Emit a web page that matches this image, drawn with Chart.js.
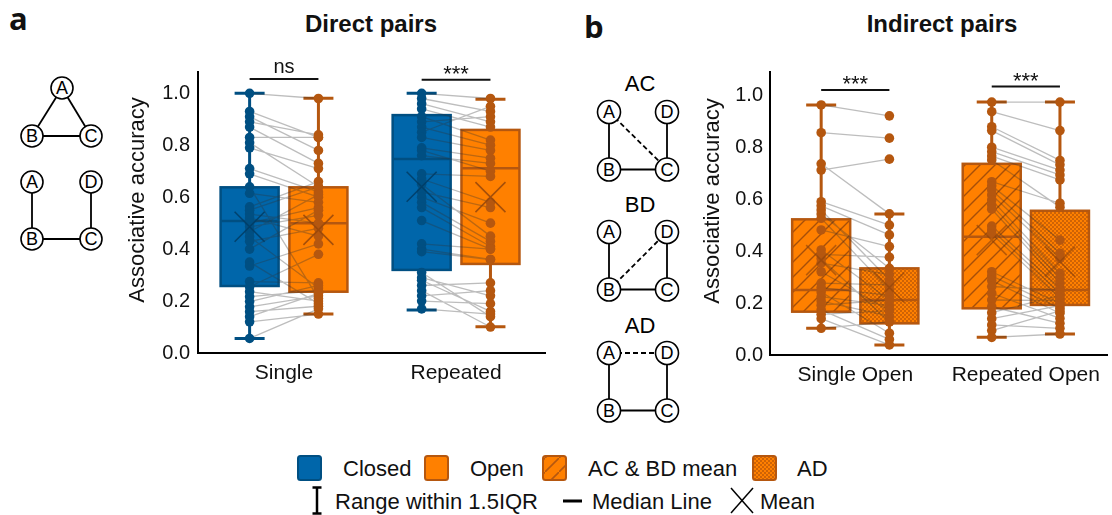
<!DOCTYPE html>
<html>
<head>
<meta charset="utf-8">
<script src="https://cdn.jsdelivr.net/npm/chart.js@4.4.1/dist/chart.umd.min.js"></script>
<style>
  body { margin: 0; width: 1112px; height: 515px; background: #fff; position: relative; overflow: hidden; }
  svg, canvas { position: absolute; }
</style>
</head>
<body>
<svg id="art" width="1112" height="515" style="left:0;top:0" font-family="'Liberation Sans', Arial, sans-serif" fill="#111"></svg>
<canvas id="direct" width="460" height="360" style="left:100px;top:40px"></canvas>
<canvas id="indirect" width="442" height="360" style="left:670px;top:40px"></canvas>
<script>
const directCats = ["Single", "Repeated"]
const indirectCats = ["Single Open", "Repeated Open"]
const yTicks = [0, 0.2, 0.4, 0.6, 0.8, 1.0]

// paired accuracies, one entry per participant (closed -> open)
const directSingleClosed = [1.0, 0.93, 0.91, 0.89, 0.87, 0.83, 0.81, 0.79, 0.71, 0.69, 0.64, 0.615, 0.563, 0.55, 0.535, 0.52, 0.50, 0.486, 0.467, 0.448, 0.43, 0.40, 0.35, 0.335, 0.275, 0.255, 0.236, 0.217, 0.198, 0.178, 0.159, 0.14, 0.12, 0.056]
const directSingleOpen = [0.98, 0.83, 0.78, 0.84, 0.73, 0.83, 0.64, 0.71, 0.62, 0.60, 0.21, 0.58, 0.66, 0.64, 0.50, 0.45, 0.56, 0.53, 0.61, 0.25, 0.48, 0.55, 0.19, 0.42, 0.27, 0.38, 0.20, 0.24, 0.26, 0.22, 0.18, 0.23, 0.15, 0.17]
const directRepeatedClosed = [1.0, 0.98, 0.96, 0.94, 0.91, 0.89, 0.87, 0.85, 0.83, 0.79, 0.78, 0.76, 0.69, 0.67, 0.65, 0.62, 0.60, 0.58, 0.56, 0.51, 0.42, 0.40, 0.39, 0.31, 0.29, 0.28, 0.26, 0.24, 0.22, 0.20, 0.17]
const directRepeatedOpen = [0.98, 0.93, 0.89, 0.87, 0.82, 0.91, 0.80, 0.95, 0.78, 0.75, 0.70, 0.73, 0.68, 0.58, 0.45, 0.56, 0.50, 0.43, 0.41, 0.40, 0.40, 0.36, 0.36, 0.14, 0.22, 0.16, 0.27, 0.10, 0.24, 0.19, 0.15]

// paired accuracies (AC & BD mean -> AD)
const indirectSingleACBD = [0.964, 0.857, 0.737, 0.713, 0.591, 0.575, 0.559, 0.544, 0.527, 0.482, 0.405, 0.388, 0.371, 0.354, 0.321, 0.277, 0.26, 0.243, 0.225, 0.208, 0.192, 0.174, 0.157, 0.14, 0.103]
const indirectSingleAD = [0.922, 0.836, 0.544, 0.755, 0.501, 0.463, 0.289, 0.334, 0.251, 0.418, 0.212, 0.377, 0.128, 0.31, 0.171, 0.27, 0.23, 0.084, 0.19, 0.15, 0.212, 0.06, 0.171, 0.039, 0.128]
const indirectRepeatedACBD = [0.975, 0.938, 0.88, 0.865, 0.801, 0.784, 0.767, 0.752, 0.668, 0.652, 0.636, 0.617, 0.598, 0.578, 0.562, 0.497, 0.482, 0.467, 0.321, 0.305, 0.287, 0.264, 0.238, 0.212, 0.186, 0.163, 0.14, 0.116, 0.094, 0.068]
const indirectRepeatedAD = [0.975, 0.865, 0.75, 0.733, 0.713, 0.694, 0.675, 0.57, 0.585, 0.443, 0.392, 0.373, 0.315, 0.296, 0.277, 0.257, 0.238, 0.219, 0.199, 0.18, 0.161, 0.25, 0.141, 0.21, 0.122, 0.23, 0.19, 0.103, 0.17, 0.081]

// box summaries per category: [lower whisker, q1, median, q3, upper whisker]
const directClosedBox = [[0.056, 0.258, 0.508, 0.638, 1.0], [0.166, 0.32, 0.747, 0.916, 1.0]]
const directOpenBox = [[0.15, 0.236, 0.50, 0.638, 0.981], [0.101, 0.343, 0.711, 0.859, 0.977]]
const directClosedMean = [0.486, 0.64]
const directOpenMean = [0.474, 0.60]
const indirectACBDBox = [[0.103, 0.167, 0.251, 0.523, 0.964], [0.068, 0.18, 0.456, 0.737, 0.975]]
const indirectADBox = [[0.039, 0.122, 0.212, 0.334, 0.544], [0.081, 0.193, 0.251, 0.556, 0.975]]
const indirectACBDMean = [0.366, 0.443]
const indirectADMean = [0.26, 0.36]

// significance labels and bracket heights
const directSig = ["ns", "***"]
const directSigLevel = [1.055, 1.052]
const indirectSig = ["***", "***"]
const indirectSigLevel = [1.022, 1.035]

const FONT = "'Liberation Sans', Arial, sans-serif"
const BLUE = "#0066aa", BLUE_DARK = "#004f82"
const ORANGE = "#ff8000", ORANGE_DARK = "#b5570f"
const SHIFT = 0.2

function hatchPattern(ctx) {
  const c = document.createElement("canvas")
  c.width = c.height = 15
  const g = c.getContext("2d")
  g.fillStyle = ORANGE
  g.fillRect(0, 0, 15, 15)
  g.strokeStyle = "rgba(150,70,10,0.85)"
  g.lineWidth = 1.4
  g.beginPath()
  g.moveTo(-2, 17); g.lineTo(17, -2)
  g.moveTo(-2, 2); g.lineTo(2, -2)
  g.moveTo(13, 17); g.lineTo(17, 13)
  g.stroke()
  return ctx.createPattern(c, "repeat")
}

function checkerPattern(ctx) {
  const c = document.createElement("canvas")
  c.width = c.height = 4
  const g = c.getContext("2d")
  g.fillStyle = ORANGE
  g.fillRect(0, 0, 4, 4)
  g.fillStyle = "rgba(165,75,10,0.55)"
  g.fillRect(0, 0, 2, 2)
  g.fillRect(2, 2, 2, 2)
  return ctx.createPattern(c, "repeat")
}

function boxPlugin(groups, pairs, sigs, titleX, titleY) {
  return {
    id: "boxes",
    beforeDatasetsDraw(chart) {
      const { ctx, scales: { x, y } } = chart
      ctx.save()
      groups.forEach(g => {
        const cx = x.getPixelForValue(g.pos)
        const [lo, q1, med, q3, hi] = g.box
        ctx.strokeStyle = g.dark
        ctx.lineWidth = 3
        ctx.beginPath()
        ctx.moveTo(cx, y.getPixelForValue(lo)); ctx.lineTo(cx, y.getPixelForValue(hi))
        ctx.moveTo(cx - 15, y.getPixelForValue(lo)); ctx.lineTo(cx + 15, y.getPixelForValue(lo))
        ctx.moveTo(cx - 15, y.getPixelForValue(hi)); ctx.lineTo(cx + 15, y.getPixelForValue(hi))
        ctx.stroke()

        const top = y.getPixelForValue(q3)
        const bot = y.getPixelForValue(q1)
        ctx.fillStyle = g.fill
        ctx.fillRect(cx - 29, top, 58, bot - top)
        ctx.lineWidth = 2.5
        ctx.strokeRect(cx - 29, top, 58, bot - top)
        ctx.beginPath()
        ctx.moveTo(cx - 29, y.getPixelForValue(med)); ctx.lineTo(cx + 29, y.getPixelForValue(med))
        ctx.stroke()
      })

      ctx.strokeStyle = "rgba(50,50,50,0.32)"
      ctx.lineWidth = 1.3
      pairs.forEach(p => {
        const xa = x.getPixelForValue(p.from), xb = x.getPixelForValue(p.to)
        ctx.beginPath()
        p.a.forEach((v, i) => {
          ctx.moveTo(xa, y.getPixelForValue(v))
          ctx.lineTo(xb, y.getPixelForValue(p.b[i]))
        })
        ctx.stroke()
      })
      ctx.restore()
    },
    afterDatasetsDraw(chart) {
      const { ctx, scales: { x, y } } = chart
      ctx.save()
      groups.forEach(g => {
        const cx = x.getPixelForValue(g.pos)
        const cy = y.getPixelForValue(g.mean)
        ctx.strokeStyle = g.meanColor
        ctx.lineWidth = 1.6
        ctx.beginPath()
        ctx.moveTo(cx - 15, cy - 15); ctx.lineTo(cx + 15, cy + 15)
        ctx.moveTo(cx + 15, cy - 15); ctx.lineTo(cx - 15, cy + 15)
        ctx.stroke()
      })

      ctx.fillStyle = "#111"
      ctx.strokeStyle = "#111"
      ctx.lineWidth = 2
      ctx.textAlign = "center"
      ctx.textBaseline = "bottom"
      sigs.labels.forEach((t, i) => {
        const x1 = x.getPixelForValue(i - SHIFT), x2 = x.getPixelForValue(i + SHIFT)
        const by = y.getPixelForValue(sigs.levels[i])
        ctx.beginPath()
        ctx.moveTo(x1, by); ctx.lineTo(x2, by)
        ctx.stroke()
        ctx.font = (t === "ns" ? "20px " : "22px ") + FONT
        ctx.fillText(t, (x1 + x2) / 2, t === "ns" ? by - 2 : by + 6)
      })

      ctx.translate(titleX, titleY)
      ctx.rotate(-Math.PI / 2)
      ctx.textBaseline = "middle"
      ctx.font = "22px " + FONT
      ctx.fillText("Associative accuracy", 0, 0)
      ctx.restore()
    }
  }
}

function buildChart(id, cats, groups, pairs, sigs, opts) {
  const canvas = document.getElementById(id)
  return new Chart(canvas, {
    type: "scatter",
    data: {
      datasets: groups.map(g => ({
        data: g.points.map(v => ({ x: g.pos, y: v })),
        pointRadius: 4.8,
        pointBackgroundColor: g.dark,
        pointBorderWidth: 0,
        showLine: false
      }))
    },
    options: {
      responsive: false,
      animation: false,
      events: [],
      clip: false,
      layout: { padding: { top: 32, right: opts.padRight, left: 0, bottom: 0 } },
      plugins: { legend: { display: false }, tooltip: { enabled: false } },
      scales: {
        x: {
          type: "linear",
          min: -0.5,
          max: opts.xMax,
          grid: { display: false, drawTicks: false },
          border: { display: true, color: "#000", width: 2 },
          afterBuildTicks: s => { s.ticks = cats.map((c, i) => ({ value: i })) },
          afterFit: s => { s.height = opts.xHeight },
          ticks: {
            callback: v => cats[v],
            font: { size: 21, family: FONT },
            color: "#111",
            padding: 8,
            maxRotation: 0,
            autoSkip: false
          }
        },
        y: {
          min: 0,
          max: opts.yMax,
          grid: { display: false, drawTicks: false },
          border: { display: true, color: "#000", width: 2 },
          afterBuildTicks: s => { s.ticks = yTicks.map(v => ({ value: v })) },
          afterFit: s => { s.width = opts.yWidth },
          ticks: {
            callback: v => v.toFixed(1),
            font: { size: 20, family: FONT },
            color: "#111",
            padding: opts.tickPad
          }
        }
      }
    },
    plugins: [boxPlugin(groups, pairs, sigs, opts.titleX, opts.titleY)]
  })
}

const ctxB = document.getElementById("indirect").getContext("2d")
const hatch = hatchPattern(ctxB)
const checker = checkerPattern(ctxB)

buildChart("direct", directCats, [
  { pos: -SHIFT, box: directClosedBox[0], mean: directClosedMean[0], points: directSingleClosed, fill: BLUE, dark: BLUE_DARK, meanColor: "rgba(0,60,100,0.85)" },
  { pos: SHIFT, box: directOpenBox[0], mean: directOpenMean[0], points: directSingleOpen, fill: ORANGE, dark: ORANGE_DARK, meanColor: "rgba(150,70,10,0.85)" },
  { pos: 1 - SHIFT, box: directClosedBox[1], mean: directClosedMean[1], points: directRepeatedClosed, fill: BLUE, dark: BLUE_DARK, meanColor: "rgba(0,60,100,0.85)" },
  { pos: 1 + SHIFT, box: directOpenBox[1], mean: directOpenMean[1], points: directRepeatedOpen, fill: ORANGE, dark: ORANGE_DARK, meanColor: "rgba(150,70,10,0.85)" }
], [
  { from: -SHIFT, to: SHIFT, a: directSingleClosed, b: directSingleOpen },
  { from: 1 - SHIFT, to: 1 + SHIFT, a: directRepeatedClosed, b: directRepeatedOpen }
], { labels: directSig, levels: directSigLevel },
{ padRight: 15, xMax: 1.517, xHeight: 47, yMax: 1.082, yWidth: 98, tickPad: 8, titleX: 38, titleY: 160 })

buildChart("indirect", indirectCats, [
  { pos: -SHIFT, box: indirectACBDBox[0], mean: indirectACBDMean[0], points: indirectSingleACBD, fill: hatch, dark: ORANGE_DARK, meanColor: "rgba(140,65,10,0.6)" },
  { pos: SHIFT, box: indirectADBox[0], mean: indirectADMean[0], points: indirectSingleAD, fill: checker, dark: ORANGE_DARK, meanColor: "rgba(140,65,10,0.6)" },
  { pos: 1 - SHIFT, box: indirectACBDBox[1], mean: indirectACBDMean[1], points: indirectRepeatedACBD, fill: hatch, dark: ORANGE_DARK, meanColor: "rgba(140,65,10,0.6)" },
  { pos: 1 + SHIFT, box: indirectADBox[1], mean: indirectADMean[1], points: indirectRepeatedAD, fill: checker, dark: ORANGE_DARK, meanColor: "rgba(140,65,10,0.6)" }
], [
  { from: -SHIFT, to: SHIFT, a: indirectSingleACBD, b: indirectSingleAD },
  { from: 1 - SHIFT, to: 1 + SHIFT, a: indirectRepeatedACBD, b: indirectRepeatedAD }
], { labels: indirectSig, levels: indirectSigLevel },
{ padRight: 0, xMax: 1.477, xHeight: 45, yMax: 1.091, yWidth: 100, tickPad: 7, titleX: 43, titleY: 161 })

// panel labels, node diagrams and the shared legend
const svg = document.getElementById("art")
const NS = "http://www.w3.org/2000/svg"
function el(tag, attrs, text) {
  const e = document.createElementNS(NS, tag)
  for (const k in attrs) e.setAttribute(k, attrs[k])
  if (text) e.textContent = text
  svg.appendChild(e)
  return e
}
function line(x1, y1, x2, y2, w, dash) {
  el("line", { x1, y1, x2, y2, stroke: "#000", "stroke-width": w || 1.8, "stroke-dasharray": dash || "none" })
}
function node(cx, cy, letter, r) {
  el("circle", { cx, cy, r, fill: "#fff", stroke: "#000", "stroke-width": 1.6 })
  el("text", { x: cx, y: cy + 6.3, "text-anchor": "middle", "font-size": 18, fill: "#000" }, letter)
}

el("text", { x: 9, y: 30, "font-size": 31, "font-weight": 700, "font-family": "'Open Sans', sans-serif" }, "a")
el("text", { x: 584, y: 38, "font-size": 31, "font-weight": 700, "font-family": "'Open Sans', sans-serif" }, "b")
el("text", { x: 371, y: 32, "font-size": 24, "font-weight": 700, "text-anchor": "middle" }, "Direct pairs")
el("text", { x: 942, y: 32, "font-size": 24, "font-weight": 700, "text-anchor": "middle" }, "Indirect pairs")

// triangle and square in panel a
line(62, 88, 32, 136); line(62, 88, 91, 136); line(32, 136, 91, 136)
node(62, 88, "A", 11); node(32, 136, "B", 11); node(91, 136, "C", 11)
line(32, 182, 32, 239); line(32, 239, 91, 239); line(91, 239, 91, 182)
node(32, 182, "A", 11); node(91, 182, "D", 11); node(32, 239, "B", 11); node(91, 239, "C", 11)

// AC, BD, AD squares in panel b
;[["AC", 91, 112, [609, 112, 667, 169]], ["BD", 212, 232, [609, 290, 667, 232]], ["AD", 333, 353, [609, 353, 667, 353]]].forEach(([lbl, ly, top, d]) => {
  const bot = top + 57.5
  el("text", { x: 640, y: ly, "text-anchor": "middle", "font-size": 22, fill: "#000" }, lbl)
  line(609, top, 609, bot); line(609, bot, 667, bot); line(667, bot, 667, top)
  line(d[0], d[1], d[2], d[3], 1.8, "5 3")
  node(609, top, "A", 11.5); node(667, top, "D", 11.5); node(609, bot, "B", 11.5); node(667, bot, "C", 11.5)
})

// legend
const defs = el("defs", {})
defs.innerHTML = `
  <pattern id="legHatch" width="14" height="14" patternUnits="userSpaceOnUse" x="545" y="458">
    <rect width="14" height="14" fill="${ORANGE}"/>
    <path d="M-1,15 L15,-1" stroke="${ORANGE_DARK}" stroke-width="1.6"/>
  </pattern>
  <pattern id="legCheck" width="4" height="4" patternUnits="userSpaceOnUse">
    <rect width="4" height="4" fill="${ORANGE}"/>
    <rect width="2" height="2" fill="rgba(165,75,10,0.55)"/>
    <rect x="2" y="2" width="2" height="2" fill="rgba(165,75,10,0.55)"/>
  </pattern>`
const swatches = [[298, BLUE, BLUE_DARK], [425, ORANGE, ORANGE_DARK], [543, "url(#legHatch)", ORANGE_DARK], [753, "url(#legCheck)", ORANGE_DARK]]
swatches.forEach(([x, f, s]) => el("rect", { x, y: 456, width: 23, height: 24, rx: 2.5, fill: f, stroke: s, "stroke-width": 2 }))
;[[343, "Closed"], [470, "Open"], [588, "AC & BD mean"], [797, "AD"]].forEach(([x, t]) =>
  el("text", { x, y: 476, "font-size": 22 }, t))
line(317, 487, 317, 514, 2.5); line(312.5, 487.5, 321.5, 487.5, 2.5); line(312.5, 513.5, 321.5, 513.5, 2.5)
line(563, 501, 582, 501, 3)
line(731, 488, 753, 513, 1.5); line(753, 488, 731, 513, 1.5)
;[[335, "Range within 1.5IQR"], [592, "Median Line"], [760, "Mean"]].forEach(([x, t]) =>
  el("text", { x, y: 509, "font-size": 22 }, t))
</script>
</body>
</html>
